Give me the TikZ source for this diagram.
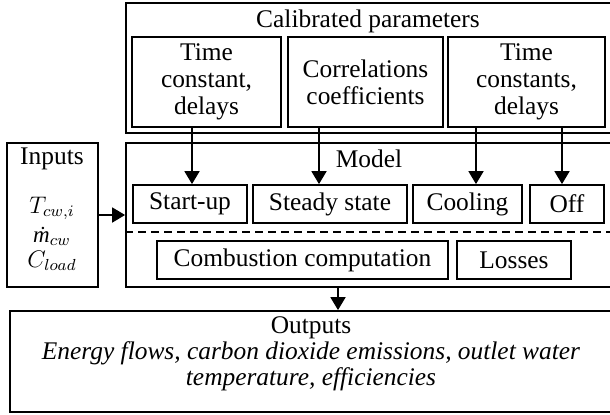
\documentclass[tikz,border=0pt]{standalone}
\usepackage{fontspec}
\setmainfont{Liberation Serif}
\usepackage{amsmath}
\usetikzlibrary{positioning}
\usetikzlibrary{arrows.meta}
\tikzset{box/.style = {draw, line width = 0.9pt, rectangle, inner sep = 0, align = center},
         lbl/.style = {inner sep = 0, align = center},
         arr/.style = {line width = 0.9pt, -{Triangle[width = 7.5pt, length = 6.5pt]}}}

\begin{document}
\begin{tikzpicture}[x = 0.5pt, y = -0.5pt, font = \fontsize{12.7}{13.5}\selectfont]
    \useasboundingbox (0,0) rectangle (610,414);
    \clip (0,0) rectangle (610,414);
    % outer frames
    \node[box, minimum width = 242.5pt, minimum height = 65pt] (calib) at (368.5,68) {};
    \node[box, minimum width = 242.5pt, minimum height = 72pt] (model) at (368.5,215) {};
    \node[box, minimum width = 45.5pt, minimum height = 72pt] (inputs) at (52.5,215) {};
    \node[box, minimum width = 304pt, minimum height = 50.5pt] (outputs) at (314,361.5) {};
    \node[lbl] (calibtxt) at (368,21) {Calibrated parameters};
    \node[lbl] (modeltxt) at (369,159) {Model};
    \node[lbl] (inputstxt) at (52,159) {Inputs};
    % input variables
    \foreach \y/\name/\v in {213/tin/{$T_{cw,i}$}, 242/mdot/{\textit{ṁ}$_{cw}$}, 267/cload/{$C_{load}$}} {
        \node[lbl, anchor = base, font = \fontsize{11.5}{13}\selectfont] (\name) at (52,\y) {\v};
    }
    \node[lbl, font = \fontsize{12.7}{13}\selectfont] (outputstxt) at (311,354)
        {Outputs\\ \itshape Energy flows, carbon dioxide emissions, outlet water\\
         \itshape temperature, efficiencies};
    % calibrated parameters
    \node[box, minimum width = 74.5pt, minimum height = 45pt] (tc1) at (206.5,82) {Time\\ constant,\\ delays};
    \node[box, minimum width = 77.5pt, minimum height = 45pt] (corr) at (365.5,82) {Correlations\\ coefficients};
    \node[box, minimum width = 78.5pt, minimum height = 45pt] (tc2) at (526.5,82) {Time\\ constants,\\ delays};
    % model blocks
    \node[box, minimum width = 57pt, minimum height = 19pt] (su) at (190,204) {Start-up};
    \node[box, minimum width = 77pt, minimum height = 19pt] (ss) at (330,204) {Steady state};
    \node[box, minimum width = 54.5pt, minimum height = 19pt] (cool) at (467.5,204) {Cooling};
    \node[box, minimum width = 37pt, minimum height = 19pt] (off) at (567,204) {Off};
    \node[box, minimum width = 145.5pt, minimum height = 19pt] (comb) at (302.5,260) {Combustion computation};
    \node[box, minimum width = 57pt, minimum height = 19pt] (loss) at (514,260) {Losses};
    \coordinate (dl) at (0,232);
    \draw[line width = 0.9pt, dash pattern = on 4pt off 2.5pt] (model.west |- dl) -- (model.east |- dl);
    % arrows
    \draw[arr] ([xshift = 1pt]su.north |- tc1.south) -- ([xshift = 1pt]su.north);
    \draw[arr] ([xshift = -5.5pt]ss.north |- corr.south) -- ([xshift = -5.5pt]ss.north);
    \draw[arr] ([xshift = 4.25pt]cool.north |- tc2.south) -- ([xshift = 4.25pt]cool.north);
    \draw[arr] ([xshift = -2.5pt]off.north |- tc2.south) -- ([xshift = -2.5pt]off.north);
    \draw[arr] (inputs.east) -- (model.west);
    \draw[arr] ([xshift = -15.25pt]model.south) -- ([xshift = -15.25pt]model.south |- outputs.north);
\end{tikzpicture}
\end{document}
